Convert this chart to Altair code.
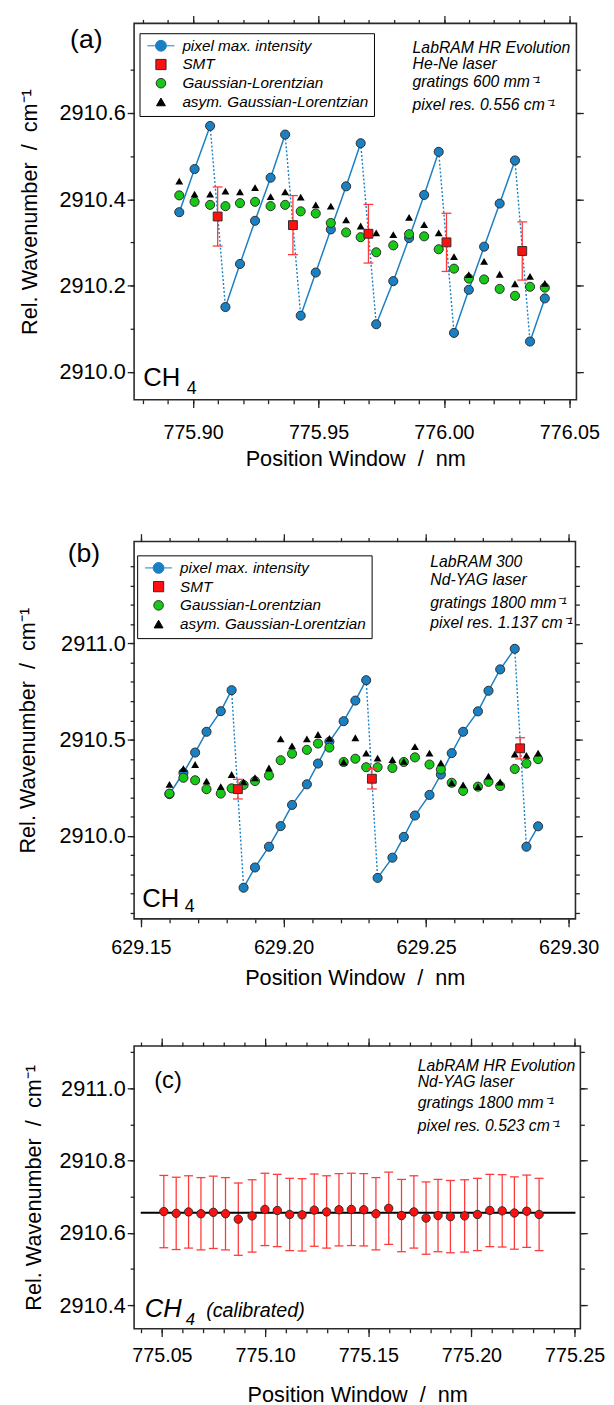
import altair as alt
import pandas as pd

FONT = "Liberation Sans"
BLUE = "#1a80c4"
GREEN = "#16c916"
RED = "#ff1010"
ERR = "#ff3a3a"
EDGE = "#2e2e2e"
AXC = "#222222"
FRAME = alt.ViewBackground(stroke="#2a2a2a", strokeWidth=1.6)
NB = "\u00a0"
XTITLE = f"Position Window{NB}{NB}/{NB}{NB}nm"
YTITLE = f"Rel. Wavenumber{NB}{NB}/{NB}{NB}cm⁻¹"

SERIES = ["pixel max. intensity", "SMT", "Gaussian-Lorentzian", "asym. Gaussian-Lorentzian"]
LEG_SHAPES = ["M-2.5,0L-1,0M1,0L2.5,0M1,0A1,1,0,1,1,-1,0A1,1,0,1,1,1,0Z",
              "square", "circle", "triangle-up"]
LEG_FILLS = [BLUE, RED, GREEN, "black"]
LEG_STROKES = [BLUE, EDGE, EDGE, "black"]
LEG_SIZES = [121, 81, 100, 81]

# ---------------- panel (a) ----------------
a_x = [775.8945, 775.9006, 775.9068, 775.9129, 775.9187, 775.9247, 775.9309, 775.9367,
       775.9429, 775.9489, 775.9549, 775.9610, 775.9668, 775.9730, 775.9798, 775.9861,
       775.9921, 775.9979, 776.0040, 776.0099, 776.0160, 776.0222, 776.0283, 776.0343,
       776.0402]
a_pixel = [2910.37, 2910.47, 2910.57, 2910.15, 2910.25, 2910.35, 2910.45, 2910.55,
           2910.13, 2910.23, 2910.33, 2910.43, 2910.53, 2910.11, 2910.21, 2910.31,
           2910.41, 2910.51, 2910.09, 2910.19, 2910.29, 2910.39, 2910.49, 2910.07,
           2910.17]
a_gl = [2910.409, 2910.394, 2910.387, 2910.384, 2910.391, 2910.394, 2910.384, 2910.387,
        2910.372, 2910.367, 2910.345, 2910.323, 2910.312, 2910.277, 2910.293, 2910.319,
        2910.314, 2910.284, 2910.239, 2910.216, 2910.214, 2910.192, 2910.176, 2910.197,
        2910.195]
a_agl = [2910.442, 2910.412, 2910.412, 2910.419, 2910.417, 2910.427, 2910.406, 2910.417,
         2910.405, 2910.387, 2910.384, 2910.352, 2910.338, 2910.322, 2910.318, 2910.358,
         2910.341, 2910.322, 2910.267, 2910.225, 2910.256, 2910.226, 2910.204, 2910.221,
         2910.205]
a_smt_x = [775.9098, 775.9398, 775.9699, 776.0010, 776.0312]
a_smt = [2910.36, 2910.34, 2910.32, 2910.30, 2910.28]
a_smt_err = [0.0685, 0.0685, 0.068, 0.0675, 0.0675]
a_xmajor = [775.90, 775.95, 776.00, 776.05]
a_ymajor = [2910.0, 2910.2, 2910.4, 2910.6]
a_notes = ["LabRAM HR Evolution", "He-Ne laser", "gratings 600 mm⁻¹", "pixel res. 0.556 cm⁻¹"]

# ---------------- panel (b) ----------------
b_x = [629.1600, 629.1649, 629.1690, 629.1730, 629.1780, 629.1818, 629.1860, 629.1900,
       629.1949, 629.1990, 629.2030, 629.2082, 629.2121, 629.2161, 629.2211, 629.2252,
       629.2290, 629.2330, 629.2382, 629.2422, 629.2461, 629.2512, 629.2552, 629.2590,
       629.2630, 629.2682, 629.2719, 629.2760, 629.2811, 629.2852, 629.2893]
b_pixel = [2910.217, 2910.328, 2910.433, 2910.541, 2910.648, 2910.757, 2909.731, 2909.836,
           2909.944, 2910.051, 2910.161, 2910.268, 2910.376, 2910.490, 2910.596, 2910.703,
           2910.809, 2909.782, 2909.887, 2909.995, 2910.106, 2910.213, 2910.319, 2910.430,
           2910.541, 2910.647, 2910.754, 2910.865, 2910.972, 2909.944, 2910.050]
b_gl = [2910.220, 2910.302, 2910.289, 2910.243, 2910.220, 2910.247, 2910.265, 2910.285,
        2910.314, 2910.393, 2910.427, 2910.447, 2910.480, 2910.459, 2910.384, 2910.401,
        2910.357, 2910.357, 2910.353, 2910.384, 2910.408, 2910.371, 2910.345, 2910.276,
        2910.234, 2910.256, 2910.281, 2910.259, 2910.348, 2910.376, 2910.399]
b_agl = [2910.268, 2910.350, 2910.371, 2910.285, 2910.256, 2910.319, 2910.281, 2910.302,
         2910.353, 2910.504, 2910.468, 2910.504, 2910.527, 2910.507, 2910.384, 2910.510,
         2910.430, 2910.404, 2910.396, 2910.387, 2910.464, 2910.430, 2910.379, 2910.276,
         2910.265, 2910.256, 2910.311, 2910.280, 2910.425, 2910.418, 2910.430]
b_smt_x = [629.1840, 629.2310, 629.2830]
b_smt = [2910.243, 2910.297, 2910.455]
b_smt_err = [0.051, 0.053, 0.055]
b_xmajor = [629.15, 629.20, 629.25, 629.30]
b_ymajor = [2910.0, 2910.5, 2911.0]
b_notes = ["LabRAM 300", "Nd-YAG laser", "gratings 1800 mm⁻¹", "pixel res. 1.137 cm⁻¹"]

# ---------------- panel (c) ----------------
c_x = [775.0509, 775.0569, 775.0629, 775.0689, 775.0749, 775.0808, 775.0870, 775.0937,
       775.0999, 775.1059, 775.1119, 775.1179, 775.1238, 775.1298, 775.1358, 775.1418,
       775.1478, 775.1537, 775.1599, 775.1661, 775.1721, 775.1780, 775.1838, 775.1898,
       775.1967, 775.2029, 775.2089, 775.2149, 775.2208, 775.2268, 775.2328]
c_y = [2910.659, 2910.654, 2910.658, 2910.653, 2910.657, 2910.653, 2910.638, 2910.647,
       2910.665, 2910.662, 2910.651, 2910.650, 2910.663, 2910.658, 2910.664, 2910.665,
       2910.664, 2910.653, 2910.668, 2910.648, 2910.658, 2910.641, 2910.648, 2910.645,
       2910.647, 2910.651, 2910.662, 2910.661, 2910.655, 2910.660, 2910.651]
c_err = [0.1] * 31
c_mean_x = [775.0397, 775.2504]
c_mean_y = [2910.656, 2910.656]
c_xmajor = [775.05, 775.10, 775.15, 775.20, 775.25]
c_ymajor = [2910.4, 2910.6, 2910.8, 2911.0]
c_notes = ["LabRAM HR Evolution", "Nd-YAG laser", "gratings 1800 mm⁻¹", "pixel res. 0.523 cm⁻¹"]


def steps(lo, hi, d, nd):
    n = int(round((hi - lo) / d))
    return [round(lo + i * d, nd) for i in range(n + 1)]


def ramps(xs, ys):
    ramp, r = [], 0
    for i, v in enumerate(ys):
        if i and v < ys[i - 1]:
            r += 1
        ramp.append(r)
    pts = pd.DataFrame({"x": xs, "y": ys, "ramp": ramp})
    rows = []
    for i in range(1, len(ys)):
        if ys[i] < ys[i - 1]:
            rows.append({"x": xs[i - 1], "y": ys[i - 1], "drop": i})
            rows.append({"x": xs[i], "y": ys[i], "drop": i})
    return pts, pd.DataFrame(rows)


def note(text, x, y, size, style="italic"):
    return alt.Chart(alt.Data(values=[{}])).mark_text(
        align="left", baseline="alphabetic", font=FONT, fontSize=size,
        fontStyle=style, color="black"
    ).encode(x=alt.value(x), y=alt.value(y), text=alt.value(text))


def axis_layers(df, yfield, xsc, ysc, xmaj, xmin, ymaj, ymin, xlabpad, xtitlepad, ytitlepad):
    layers = []
    conf = [("bottom", "left", xmaj, ymaj, 8, 7, True),
            ("bottom", "left", xmin, ymin, 4, 4, False),
            ("top", "right", xmaj, ymaj, 8, 7, False),
            ("top", "right", xmin, ymin, 4, 4, False)]
    for xo, yo, xv, yv, xt, yt, lab in conf:
        common = dict(domain=False, grid=False, tickColor=AXC, tickWidth=1.3, labels=lab,
                      labelFont=FONT, labelColor="black", minExtent=0,
                      labelOverlap=False, titleFont=FONT, titleFontSize=22,
                      titleFontWeight="normal", titleColor="black")
        xkw = dict(labelPadding=xlabpad, titlePadding=xtitlepad) if lab else {}
        ykw = dict(labelPadding=2, titlePadding=ytitlepad) if lab else {}
        xa = alt.Axis(orient=xo, values=xv, tickSize=xt, format=".2f", labelFontSize=20,
                      **xkw, **common)
        ya = alt.Axis(orient=yo, values=yv, tickSize=yt, format=".1f", labelFontSize=22,
                      **ykw, **common)
        layers.append(alt.Chart(df).mark_point(opacity=0).encode(
            x=alt.X("x:Q", scale=xsc, axis=xa, title=XTITLE if lab else None),
            y=alt.Y(f"{yfield}:Q", scale=ysc, axis=ya, title=YTITLE if lab else None)))
    return layers


def legend_layer(lx, ly):
    leg = alt.Legend(orient="none", legendX=lx, legendY=ly, title=None,
                     strokeColor="black", fillColor="white", padding=5, rowPadding=2,
                     symbolOffset=9, labelOffset=14, labelFont=FONT, labelFontSize=15.5,
                     labelFontStyle="italic", labelColor="black", labelLimit=400,
                     symbolStrokeWidth=1)
    return alt.Chart(pd.DataFrame({"series": SERIES})).transform_filter("false").mark_point(
        filled=True, opacity=1
    ).encode(
        color=alt.Color("series:N", scale=alt.Scale(domain=SERIES, range=LEG_FILLS), legend=leg),
        shape=alt.Shape("series:N", scale=alt.Scale(domain=SERIES, range=LEG_SHAPES)),
        stroke=alt.Stroke("series:N", scale=alt.Scale(domain=SERIES, range=LEG_STROKES)),
        size=alt.Size("series:N", scale=alt.Scale(domain=SERIES, range=LEG_SIZES)),
    )


def fit_panel(xs, pixel, gl, agl, smt_x, smt, smt_err, xdom, ydom, w, h,
              xmaj, xmin, ymaj, ymin, xlabpad, xtitlepad, ytitlepad,
              leg_xy, texts):
    xsc = alt.Scale(domain=xdom, nice=False, zero=False)
    ysc = alt.Scale(domain=ydom, nice=False, zero=False)
    X = alt.X("x:Q", scale=xsc, axis=None)

    def Y(f):
        return alt.Y(f"{f}:Q", scale=ysc, axis=None)

    pts = pd.DataFrame({"x": xs, "pixel": pixel, "gl": gl, "agl": agl})
    ramp_df, drop_df = ramps(xs, pixel)
    smt_df = pd.DataFrame({"x": smt_x, "y": smt,
                           "lo": [v - e for v, e in zip(smt, smt_err)],
                           "hi": [v + e for v, e in zip(smt, smt_err)]})
    layers = [
        alt.Chart(drop_df).mark_line(color=BLUE, strokeWidth=1.4, strokeDash=[2, 2]).encode(
            x=X, y=Y("y"), detail="drop:N"),
        alt.Chart(ramp_df).mark_line(color=BLUE, strokeWidth=1.5).encode(
            x=X, y=Y("y"), detail="ramp:N"),
        alt.Chart(pts).mark_circle(fill=BLUE, stroke=EDGE, strokeWidth=1, size=85, opacity=1).encode(
            x=X, y=Y("pixel")),
        alt.Chart(pts).mark_circle(fill=GREEN, stroke=EDGE, strokeWidth=1, size=85, opacity=1).encode(
            x=X, y=Y("gl")),
        alt.Chart(pts).mark_point(shape="triangle-up", filled=True, color="black", size=64, opacity=1).encode(
            x=X, y=Y("agl")),
        alt.Chart(smt_df).mark_rule(color=ERR, strokeWidth=1.3).encode(x=X, y=Y("lo"), y2="hi:Q"),
        alt.Chart(smt_df).mark_tick(orient="horizontal", size=10, thickness=1.3, color=ERR, opacity=1).encode(
            x=X, y=Y("lo")),
        alt.Chart(smt_df).mark_tick(orient="horizontal", size=10, thickness=1.3, color=ERR, opacity=1).encode(
            x=X, y=Y("hi")),
        alt.Chart(smt_df).mark_point(shape="square", filled=True, fill=RED, stroke=EDGE,
                                     strokeWidth=1, size=81, opacity=1).encode(x=X, y=Y("y")),
        legend_layer(*leg_xy),
    ]
    layers += axis_layers(pts, "gl", xsc, ysc, xmaj, xmin, ymaj, ymin, xlabpad, xtitlepad, ytitlepad)
    layers += texts
    return alt.layer(*layers).resolve_axis(x="independent", y="independent").properties(
        width=w, height=h, view=FRAME)


panel_a = fit_panel(
    a_x, a_pixel, a_gl, a_agl, a_smt_x, a_smt, a_smt_err,
    [775.8765, 776.0528], [2909.935, 2910.808], 449, 382,
    a_xmajor, steps(775.88, 776.05, 0.01, 2), a_ymajor, steps(2910.0, 2910.7, 0.1, 1),
    15.5, 6.5, 17.3, (5.5, 10),
    [note("(a)", -65, 25, 27, "normal"), note("CH", 9.4, 368.3, 26, "normal"),
     note("4", 53.5, 376.7, 18, "normal")]
    + [note(t, 282.7, yy, 16) for t, yy in zip(a_notes, [30, 46.7, 65, 88.3])],
)

panel_b = fit_panel(
    b_x, b_pixel, b_gl, b_agl, b_smt_x, b_smt, b_smt_err,
    [629.1476, 629.3024], [2909.569, 2911.529], 448, 383,
    b_xmajor, steps(629.15, 629.30, 0.01, 2), b_ymajor, steps(2909.6, 2911.4, 0.1, 1),
    11.2, 10.9, 19.7, (3.1, 14),
    [note("(b)", -67.4, 21, 27, "normal"), note("CH", 8.2, 371, 26, "normal"),
     note("4", 51.5, 376, 18, "normal")]
    + [note(t, 300.7, yy, 16) for t, yy in zip(b_notes, [26.3, 43.7, 67, 87.3])],
)

# panel (c)
c_xsc = alt.Scale(domain=[775.0365, 775.2528], nice=False, zero=False)
c_ysc = alt.Scale(domain=[2910.335, 2911.117], nice=False, zero=False)
c_df = pd.DataFrame({"x": c_x, "y": c_y,
                     "lo": [v - e for v, e in zip(c_y, c_err)],
                     "hi": [v + e for v, e in zip(c_y, c_err)]})
c_mean = pd.DataFrame({"x": c_mean_x, "y": c_mean_y})
cX = alt.X("x:Q", scale=c_xsc, axis=None)


def cY(f):
    return alt.Y(f"{f}:Q", scale=c_ysc, axis=None)


c_layers = [
    alt.Chart(c_df).mark_rule(color=ERR, strokeWidth=1.3).encode(x=cX, y=cY("lo"), y2="hi:Q"),
    alt.Chart(c_df).mark_tick(orient="horizontal", size=9, thickness=1.3, color=ERR, opacity=1).encode(
        x=cX, y=cY("lo")),
    alt.Chart(c_df).mark_tick(orient="horizontal", size=9, thickness=1.3, color=ERR, opacity=1).encode(
        x=cX, y=cY("hi")),
    alt.Chart(c_mean).mark_line(color="black", strokeWidth=2).encode(x=cX, y=cY("y")),
    alt.Chart(c_df).mark_circle(fill=RED, stroke=EDGE, strokeWidth=1, size=72, opacity=1).encode(
        x=cX, y=cY("y")),
]
c_layers += axis_layers(c_df, "y", c_xsc, c_ysc, c_xmajor, steps(775.04, 775.25, 0.01, 2),
                        c_ymajor, steps(2910.4, 2911.1, 0.1, 1), 9.5, 19.5, 14.2)
c_layers += [note("(c)", 20.4, 43, 24, "normal"), note("CH", 10.7, 275, 26),
             note("4", 52.5, 283.3, 17), note("(calibrated)", 73.2, 275.5, 20)]
c_layers += [note(t, 287.8, yy, 16) for t, yy in zip(c_notes, [25, 41.6, 63.3, 86.6])]
panel_c = alt.layer(*c_layers).resolve_axis(x="independent", y="independent").properties(
    width=453, height=287, view=FRAME)

RES = dict(color="independent", shape="independent", stroke="independent", size="independent")
inner = alt.vconcat(panel_b, panel_c, spacing=47).resolve_scale(**RES)
chart = alt.vconcat(panel_a, inner, spacing=62).resolve_scale(**RES)
chart = chart.properties(
    padding={"left": 8, "top": -5, "right": 0, "bottom": 0}
).configure_view(stroke="#2a2a2a", strokeWidth=1.6).configure(font=FONT)

chart.save("out.html", embed_options={"renderer": "svg", "actions": False})
